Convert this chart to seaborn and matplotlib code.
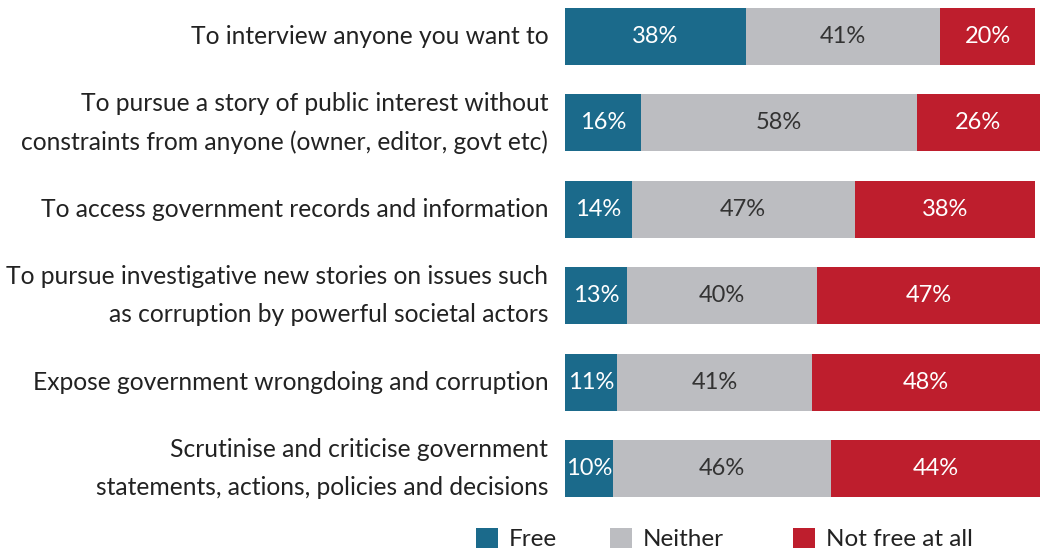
import matplotlib
matplotlib.use("Agg")
import matplotlib.pyplot as plt
import seaborn as sns
import pandas as pd
from matplotlib.patches import Patch

categories = [
    "To interview anyone you want to",
    "To pursue a story of public interest without\nconstraints from anyone (owner, editor, govt etc)",
    "To access government records and information",
    "To pursue investigative new stories on issues such\nas corruption by powerful societal actors",
    "Expose government wrongdoing and corruption",
    "Scrutinise and criticise government\nstatements, actions, policies and decisions",
]
free = [38, 16, 14, 13, 11, 10]
neither = [41, 58, 47, 40, 41, 46]
not_free = [20, 26, 38, 47, 48, 44]
series_names = ["Free", "Neither", "Not free at all"]
colors = ["#1b6a8b", "#bcbdc1", "#be1e2d"]
label_colors = ["white", "#333333", "white"]

sns.set_theme(style="white")
plt.rcParams["font.family"] = ["Lato", "DejaVu Sans"]

df = pd.DataFrame({"category": categories, "Free": free,
                   "Neither": neither, "Not free at all": not_free})
df["c1"] = df["Free"]
df["c2"] = df["Free"] + df["Neither"]
df["c3"] = df["c2"] + df["Not free at all"]

W, H = 1041, 552
fig = plt.figure(figsize=(W / 100, H / 100), dpi=100)
ax = fig.add_axes([565 / W, 1 - 505 / H, 475 / W, 505 / H])

# Stacked bars: draw cumulative totals from widest to narrowest
for col, color in zip(["c3", "c2", "c1"], colors[::-1]):
    sns.barplot(data=df, x=col, y="category", orient="h", color=color,
                width=0.66, saturation=1, ax=ax, linewidth=0)

# Segment labels
for i, row in df.iterrows():
    starts = [0, row["c1"], row["c2"]]
    for j, name in enumerate(series_names):
        val = row[name]
        ax.text(starts[j] + val / 2, i, f"{val}%", ha="center", va="center",
                color=label_colors[j], fontsize=17)

ax.set_xlim(0, 100)
ax.set_ylim(5.4225, -0.4225)
ax.set_xlabel("")
ax.set_ylabel("")
ax.set_xticks([])
ax.tick_params(axis="y", length=0, pad=12, labelsize=17.7, labelcolor="#222222")
for lbl in ax.get_yticklabels():
    lbl.set_horizontalalignment("right")
    lbl.set_verticalalignment("center")
    lbl.set_linespacing(1.82)
sns.despine(ax=ax, left=True, bottom=True)

# Legend entries placed as three fixed-width columns
legend_x = [476, 610, 793]
for name, color, x in zip(series_names, colors, legend_x):
    fig.legend([Patch(facecolor=color, edgecolor="none")], [name],
               loc="center left", bbox_to_anchor=(x / W, 1 - 539 / H),
               borderaxespad=0, borderpad=0, frameon=False, fontsize=17.5,
               handlelength=0.9, handleheight=0.9, handletextpad=0.45,
               labelcolor="#222222")

fig.savefig("out.png", dpi=100)
